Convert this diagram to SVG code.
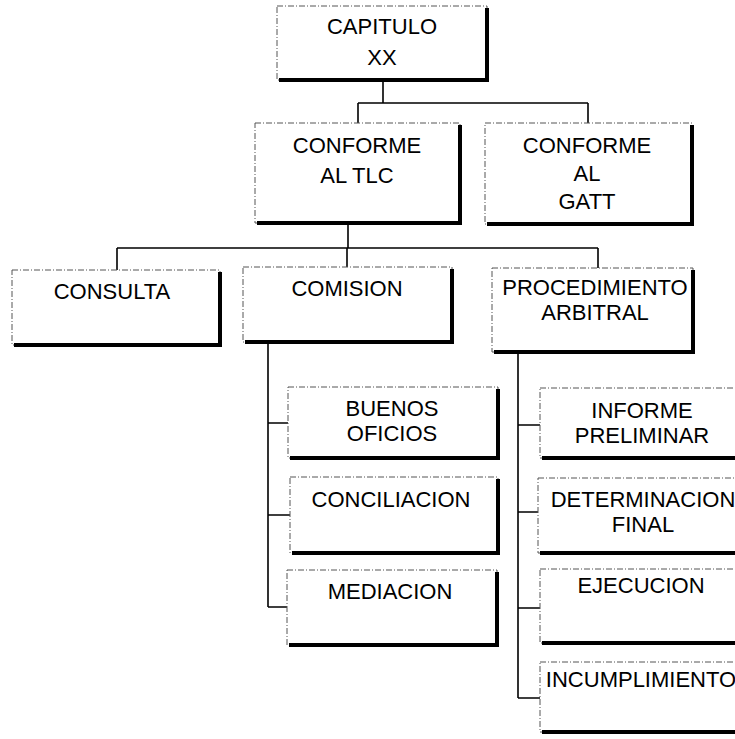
<svg xmlns="http://www.w3.org/2000/svg" width="735" height="739" viewBox="0 0 735 739">
<style>
.bg{fill:#ffffff}
.box{fill:#ffffff;stroke:#555555;stroke-width:1;stroke-dasharray:6 2 1 2}
.sh{fill:none;stroke:#000000;stroke-width:4;stroke-linejoin:miter}
.conn{fill:none;stroke:#000000;stroke-width:1.6}
text{font-family:"Liberation Sans",Arial,sans-serif;font-size:22px;fill:#000000;text-anchor:middle}
</style>
<rect class="bg" x="0" y="0" width="735" height="739"/>
<g id="connectors">
<path class="conn" d="M383,80V103M358,103H588M358,103V123M588,103V123"/>
<path class="conn" d="M348,223V248M117,248H598M117,248V270M347,248V267M598,248V268"/>
<path class="conn" d="M268,342V607M268,423H288M268,515H290M268,607H287"/>
<path class="conn" d="M518,352V698M518,425H540M518,512H538M518,608H540M518,698H540"/>
</g>
<g id="n-capitulo">
<rect class="box" x="277" y="6" width="210" height="74"/>
<path class="sh" d="M487,8V80H279"/>
<text x="382" y="34">CAPITULO</text>
<text x="382" y="65">XX</text>
</g>
<g id="n-tlc">
<rect class="box" x="255" y="123" width="205" height="100"/>
<path class="sh" d="M460,125V223H257"/>
<text x="357" y="153">CONFORME</text>
<text x="357" y="183">AL TLC</text>
</g>
<g id="n-gatt">
<rect class="box" x="485" y="123" width="207" height="101"/>
<path class="sh" d="M692,125V224H487"/>
<text x="587" y="153">CONFORME</text>
<text x="587" y="181">AL</text>
<text x="587" y="209">GATT</text>
</g>
<g id="n-consulta">
<rect class="box" x="12" y="270" width="208" height="75"/>
<path class="sh" d="M220,272V345H14"/>
<text x="112" y="299">CONSULTA</text>
</g>
<g id="n-comision">
<rect class="box" x="243" y="267" width="209" height="75"/>
<path class="sh" d="M452,269V342H245"/>
<text x="347" y="296">COMISION</text>
</g>
<g id="n-procedimiento">
<rect class="box" x="492" y="268" width="201" height="84"/>
<path class="sh" d="M693,270V352H494"/>
<text x="595" y="295">PROCEDIMIENTO</text>
<text x="595" y="320">ARBITRAL</text>
</g>
<g id="n-buenos">
<rect class="box" x="288" y="387" width="210" height="71"/>
<path class="sh" d="M498,389V458H290"/>
<text x="392" y="416">BUENOS</text>
<text x="392" y="441">OFICIOS</text>
</g>
<g id="n-conciliacion">
<rect class="box" x="290" y="477" width="208" height="76"/>
<path class="sh" d="M498,479V553H292"/>
<text x="391" y="507">CONCILIACION</text>
</g>
<g id="n-mediacion">
<rect class="box" x="287" y="570" width="210" height="75"/>
<path class="sh" d="M497,572V645H289"/>
<text x="390" y="599">MEDIACION</text>
</g>
<g id="n-informe">
<rect class="box" x="540" y="388" width="210" height="70"/>
<path class="sh" d="M750,390V458H542"/>
<text x="642" y="418">INFORME</text>
<text x="642" y="443">PRELIMINAR</text>
</g>
<g id="n-determinacion">
<rect class="box" x="538" y="478" width="212" height="75"/>
<path class="sh" d="M750,480V553H540"/>
<text x="643" y="507">DETERMINACION</text>
<text x="643" y="532">FINAL</text>
</g>
<g id="n-ejecucion">
<rect class="box" x="540" y="569" width="210" height="74"/>
<path class="sh" d="M750,571V643H542"/>
<text x="641" y="593">EJECUCION</text>
</g>
<g id="n-incumplimiento">
<rect class="box" x="540" y="662" width="210" height="70"/>
<path class="sh" d="M750,664V732H542"/>
<text x="641" y="687">INCUMPLIMIENTO</text>
</g>
</svg>
